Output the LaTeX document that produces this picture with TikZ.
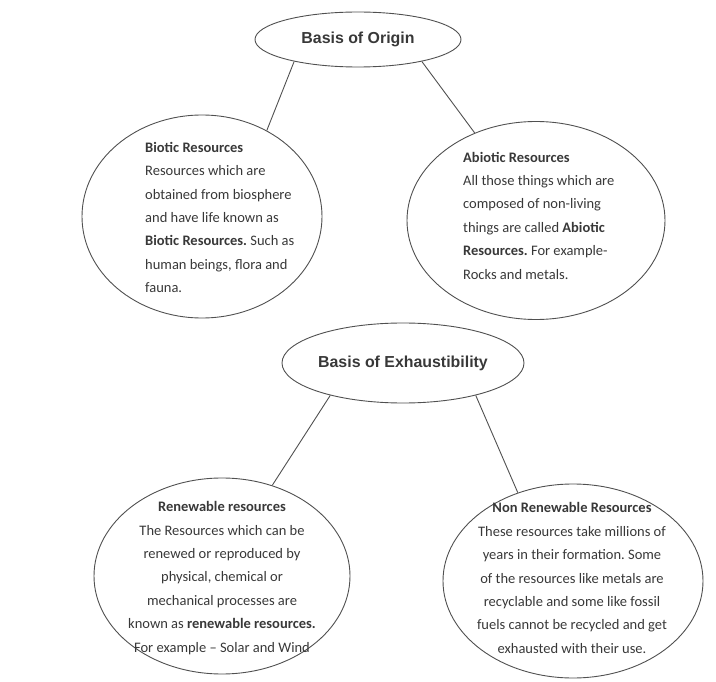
\documentclass[tikz,border=0pt]{standalone}
\usepackage{fontspec}
\setmainfont{Carlito}
\newfontfamily\headfont{Liberation Sans}
\usetikzlibrary{shapes.geometric}
\definecolor{ink}{HTML}{383838}
\definecolor{edge}{HTML}{505050}
\frenchspacing
\begin{document}
\begin{tikzpicture}[x=1pt,y=-1pt,
  oval/.style={ellipse, draw=edge, line width=0.9pt, inner sep=0pt},
  head/.style={font=\headfont\bfseries\fontsize{15.9}{18}\selectfont, text=ink},
  body/.style={font=\fontsize{14.5}{23.4}\selectfont, text=ink, inner sep=0pt},
  link/.style={draw=edge, line width=0.9pt}]
\useasboundingbox (0,0) rectangle (716,682);

\node[oval, head, minimum width=206pt, minimum height=55pt] (origin) at (358,39.5) {Basis of Origin};
\node[oval, minimum width=240pt, minimum height=203pt] (biotic) at (202,216.5) {};
\node[oval, minimum width=258pt, minimum height=198pt] (abiotic) at (536,220.5) {};
\node[oval, head, minimum width=242pt, minimum height=80pt] (exhaust) at (403,363) {Basis of Exhaustibility};
\node[oval, minimum width=256pt, minimum height=196pt] (renew) at (222,576) {};
\node[oval, minimum width=260pt, minimum height=194pt] (nonrenew) at (573,581) {};

\node[body, align=left, anchor=west] (biotict) at (145,217.5) {\textbf{Biotic Resources}\\Resources which are\\obtained from biosphere\\and have life known as\\\textbf{Biotic Resources.} Such as\\human beings, flora and\\fauna.};
\node[body, align=left, anchor=west] (abiotict) at (463,215.5) {\textbf{Abiotic Resources}\\All those things which are\\composed of non-living\\things are called \textbf{Abiotic}\\\textbf{Resources.} For example-\\Rocks and metals.};
\node[body, align=center] (renewt) at (222,578) {\textbf{Renewable resources}\\The Resources which can be\\renewed or reproduced by\\physical, chemical or\\mechanical processes are\\known as \textbf{renewable resources.}\\For example -- Solar and Wind};
\node[body, align=center] (nonrenewt) at (572,578) {\textbf{Non Renewable Resources}\\These resources take millions of\\years in their formation. Some\\of the resources like metals are\\recyclable and some like fossil\\fuels cannot be recycled and get\\exhausted with their use.};

\draw[link] (origin.199.7) -- (biotic.53.5);
\draw[link] (origin.341) -- (abiotic.125.1);
\draw[link] (exhaust.204.6) -- (renew.61);
\draw[link] (exhaust.336.8) -- (nonrenew.122.6);
\end{tikzpicture}
\end{document}
